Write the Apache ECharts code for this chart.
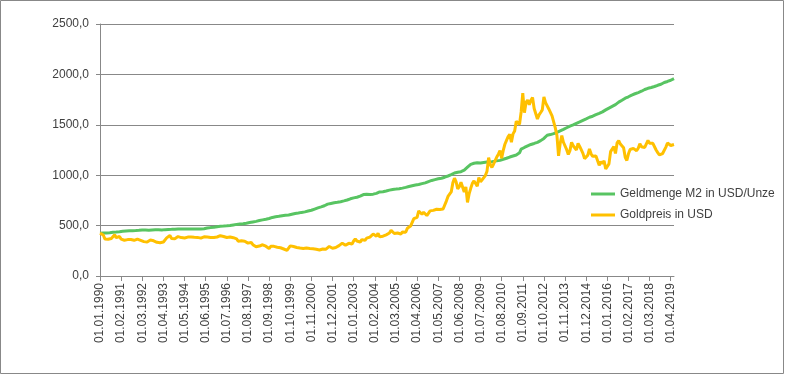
<!DOCTYPE html>
<html>
<head>
<meta charset="utf-8">
<script src="https://cdn.jsdelivr.net/npm/echarts@6/dist/echarts.min.js"></script>
<style>
html,body{margin:0;padding:0;background:#ffffff;}
#chart{width:785px;height:375px;}
</style>
</head>
<body>
<div id="chart"></div>
<script>
// Monthly categories 01.01.1990 ... 01.06.2019
var firstYear = 1990;
var monthCount = 354;
var categories = [];
for (var i = 0; i < monthCount; i++) {
  var y = firstYear + Math.floor(i / 12);
  var m = (i % 12) + 1;
  categories.push('01.' + (m < 10 ? '0' + m : m) + '.' + y);
}

var seriesNames = ['Geldmenge M2 in USD/Unze', 'Goldpreis in USD'];

var m2PerOunce = [
  423, 425, 426, 427, 427, 428, 430, 432, 434, 435, 436, 438,
  439, 441, 444, 446, 447, 448, 449, 449, 450, 450, 451, 451,
  453, 456, 457, 457, 456, 455, 455, 456, 457, 458, 458, 458,
  458, 457, 456, 457, 460, 461, 462, 463, 463, 464, 465, 465,
  466, 466, 466, 467, 467, 466, 467, 467, 467, 466, 466, 467,
  467, 467, 467, 468, 469, 473, 476, 478, 480, 481, 483, 486,
  488, 490, 493, 494, 495, 497, 498, 500, 502, 504, 507, 510,
  512, 514, 516, 518, 519, 521, 524, 527, 530, 533, 536, 539,
  542, 546, 550, 554, 557, 560, 563, 566, 570, 576, 581, 585,
  588, 590, 592, 595, 598, 600, 602, 604, 606, 609, 613, 619,
  620, 621, 625, 632, 631, 633, 636, 641, 645, 648, 652, 657,
  664, 669, 676, 684, 686, 692, 697, 700, 713, 713, 720, 725,
  727, 730, 731, 733, 737, 740, 745, 750, 754, 759, 766, 771,
  775, 779, 781, 786, 792, 800, 808, 812, 810, 808, 808, 810,
  812, 815, 820, 826, 834, 835, 836, 839, 843, 847, 852, 857,
  859, 860, 862, 864, 866, 869, 872, 875, 879, 884, 888, 892,
  896, 899, 903, 907, 908, 912, 916, 919, 924, 930, 937, 944,
  948, 952, 956, 962, 964, 967, 970, 974, 980, 986, 992, 998,
  1005, 1013, 1022, 1027, 1030, 1032, 1035, 1038, 1050, 1065, 1080, 1094,
  1108, 1112, 1118, 1116, 1124, 1123, 1122, 1124, 1126, 1128, 1130, 1134,
  1130, 1132, 1137, 1134, 1142, 1144, 1147, 1152, 1158, 1163, 1168, 1175,
  1180, 1186, 1190, 1195, 1200, 1207, 1222, 1258, 1268, 1275, 1282, 1290,
  1299, 1305, 1310, 1315, 1320, 1326, 1335, 1343, 1352, 1365, 1378, 1396,
  1396, 1403, 1410, 1412, 1419, 1425, 1432, 1440, 1447, 1455, 1463, 1471,
  1478, 1487, 1494, 1499, 1508, 1515, 1521, 1529, 1535, 1544, 1551, 1559,
  1566, 1575, 1579, 1585, 1592, 1600, 1607, 1613, 1618, 1628, 1639, 1648,
  1655, 1666, 1674, 1683, 1690, 1700, 1714, 1725, 1734, 1744, 1756, 1764,
  1770, 1778, 1787, 1795, 1802, 1808, 1813, 1820, 1827, 1833, 1840, 1850,
  1855, 1862, 1865, 1870, 1874, 1880, 1886, 1892, 1896, 1902, 1910, 1920,
  1925, 1930, 1936, 1942, 1950, 1958
];

var goldPrice = [
  425, 415, 407, 368, 368, 364, 352, 372, 387, 408, 380, 384,
  392, 366, 362, 355, 357, 361, 368, 362, 347, 354, 358, 366,
  353, 354, 353, 341, 337, 337, 343, 357, 340, 349, 339, 334,
  333, 330, 327, 337, 354, 378, 378, 402, 372, 355, 370, 371,
  391, 378, 381, 392, 377, 387, 386, 385, 386, 394, 384, 383,
  383, 375, 376, 392, 389, 385, 387, 383, 382, 384, 383, 387,
  387, 405, 400, 396, 392, 390, 382, 385, 387, 379, 380, 371,
  369, 345, 358, 349, 340, 345, 334, 326, 325, 332, 311, 296,
  290, 303, 297, 301, 310, 294, 296, 288, 273, 294, 292, 294,
  288, 286, 287, 280, 286, 268, 261, 255, 254, 299, 299, 292,
  290, 283, 293, 277, 274, 272, 289, 277, 277, 273, 264, 270,
  273, 265, 267, 258, 263, 268, 270, 266, 273, 293, 279, 275,
  277, 282, 297, 301, 309, 326, 318, 305, 312, 324, 317, 317,
  347, 368, 347, 334, 336, 361, 346, 354, 375, 388, 386, 398,
  417, 399, 395, 424, 388, 393, 395, 391, 408, 416, 426, 453,
  435, 422, 435, 427, 435, 417, 437, 429, 434, 473, 470, 495,
  513, 569, 557, 582, 645, 653, 613, 633, 623, 600, 604, 646,
  632, 651, 665, 662, 679, 659, 650, 665, 673, 743, 789, 783,
  834, 924, 971, 933, 865, 886, 930, 918, 833, 884, 730, 815,
  870, 919, 943, 917, 891, 976, 935, 955, 949, 996, 1040, 1175,
  1104, 1078, 1109, 1116, 1180, 1208, 1244, 1170, 1246, 1307, 1346, 1383,
  1405, 1327, 1410, 1439, 1535, 1536, 1505, 1628, 1813, 1620, 1722, 1746,
  1700, 1744, 1770, 1662, 1651, 1558, 1598, 1622, 1648, 1776, 1720, 1722,
  1657, 1664, 1588, 1598, 1469, 1394, 1192, 1314, 1394, 1327, 1324, 1253,
  1205, 1244, 1326, 1292, 1288, 1250, 1315, 1285, 1286, 1217, 1164, 1176,
  1199, 1260, 1212, 1187, 1180, 1190, 1171, 1098, 1135, 1115, 1142, 1062,
  1060, 1112, 1234, 1237, 1285, 1215, 1320, 1342, 1309, 1322, 1272, 1178,
  1146, 1212, 1255, 1245, 1266, 1266, 1243, 1267, 1312, 1283, 1271, 1275,
  1291, 1345, 1318, 1325, 1316, 1298, 1250, 1224, 1201, 1187, 1215, 1217,
  1279, 1319, 1317, 1295, 1283, 1305
];

var yMin = 0, yMax = 2500, yStep = 500;

var FONT = 'Liberation Sans, Arial, sans-serif';
var TEXT = '#404040';
var GRID = '#888888';

var chart = echarts.init(document.getElementById('chart'), null, {renderer: 'canvas'});
chart.setOption({
  animation: false,
  backgroundColor: '#ffffff',
  grid: {left: 100, right: 111, top: 24, bottom: 99, containLabel: false},
  legend: {
    data: seriesNames,
    orient: 'vertical',
    left: 586,
    top: 183,
    icon: 'rect',
    itemWidth: 24,
    itemHeight: 3,
    itemGap: 9,
    textStyle: {fontFamily: FONT, fontSize: 12, color: TEXT}
  },
  xAxis: {
    type: 'category',
    data: categories,
    boundaryGap: false,
    axisLine: {show: true, lineStyle: {color: GRID, width: 1}},
    axisTick: {show: true, interval: 12, length: 5, lineStyle: {color: GRID}},
    axisLabel: {interval: 12, rotate: 90, margin: 7, fontFamily: FONT, fontSize: 12, color: TEXT},
    splitLine: {show: false}
  },
  yAxis: {
    type: 'value',
    min: yMin,
    max: yMax,
    interval: yStep,
    axisLine: {show: true, lineStyle: {color: GRID, width: 1}},
    axisTick: {show: true, length: 4, lineStyle: {color: GRID}},
    axisLabel: {
      margin: 11,
      fontFamily: FONT, fontSize: 12, color: TEXT,
      formatter: function (v) { return v.toFixed(1).replace('.', ','); }
    },
    splitLine: {show: true, lineStyle: {color: GRID, width: 1}}
  },
  series: [
    {
      name: seriesNames[0],
      type: 'line',
      data: m2PerOunce,
      showSymbol: false,
      symbol: 'none',
      lineStyle: {color: '#58C462', width: 3},
      itemStyle: {color: '#58C462'}
    },
    {
      name: seriesNames[1],
      type: 'line',
      data: goldPrice,
      showSymbol: false,
      symbol: 'none',
      lineStyle: {color: '#FFC000', width: 3},
      itemStyle: {color: '#FFC000'}
    }
  ],
  graphic: [{
    type: 'rect',
    silent: true,
    shape: {x: 0.5, y: 0.5, width: 783, height: 373},
    style: {fill: 'none', stroke: '#888888', lineWidth: 1}
  }]
});
</script>
</body>
</html>
